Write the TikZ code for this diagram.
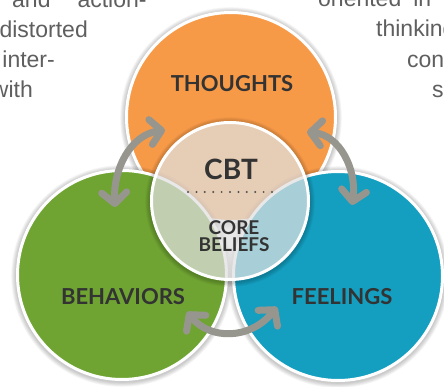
\documentclass[tikz,border=0pt]{standalone}
\usepackage{fontspec}
\setmainfont{Liberation Sans}
\newfontfamily\lblfont{Lato}
\usetikzlibrary{arrows.meta}
\definecolor{cOrange}{RGB}{247,154,72}
\definecolor{cGreen}{RGB}{111,164,50}
\definecolor{cBlue}{RGB}{20,158,191}
\definecolor{cArrow}{RGB}{150,150,143}
\definecolor{cLabel}{RGB}{51,51,51}
\definecolor{cBody}{RGB}{95,95,95}
\definecolor{cOverlay}{RGB}{224,224,224}
\definecolor{cDots}{RGB}{80,80,80}
\newcommand\mysoftshadow[2]{%
  \foreach \k in {1,...,6}{\fill[black,opacity=0.035,even odd rule] (#1) ++(0,1) circle[radius={#2pt+\k*0.8pt}] (#1) circle[radius={#2pt-2pt}];}}
\begin{document}
\begin{tikzpicture}[x=1pt,y=-1pt,
  bigcirc/.style={circle, draw=white, line width=3pt, minimum size=209pt, inner sep=0pt, outer sep=0pt},
  corecirc/.style={circle, draw=white, line width=3pt, minimum size=157pt, fill=cOverlay, fill opacity=0.73, inner sep=0pt, outer sep=0pt},
  lbl/.style={font=\lblfont\bfseries\fontsize{22}{22}\selectfont, text=cLabel, inner sep=0pt, anchor=base},
  small/.style={font=\lblfont\bfseries\fontsize{19}{17}\selectfont, text=cLabel, inner sep=0pt, align=center},
  body/.style={font=\fontsize{23}{23}\selectfont, text=cBody, inner sep=0pt},
  link/.style={draw=cArrow, line width=7pt, {Straight Barb[length=11pt,width=25pt,round]}-{Straight Barb[length=11pt,width=25pt,round]}},
]
\useasboundingbox (0,0) rectangle (444,387);
\fill[white] (0,0) rectangle (444,387);

% body text fragments
\node[body, anchor=base west] (t1) at (12,8) {and\hskip 27pt action-};
\node[body, anchor=base east] (t2) at (88,38) {distorted};
\node[body, anchor=base east] (t3) at (55,68) {inter-};
\node[body, anchor=base east] (t4) at (33,98) {with};
\node[body, anchor=base west] (t5) at (318,7) {oriented\hskip 12pt in};
\node[body, anchor=base west] (t6) at (376,37) {thinking};
\node[body, anchor=base west] (t7) at (407,68) {con};
\node[body, anchor=base west] (t8) at (432,98) {s};

\coordinate (cT) at (231,117);
\coordinate (cB) at (122,275);
\coordinate (cF) at (338,276);
\coordinate (cC) at (230,201);

\mysoftshadow{cT}{106}
\node[bigcirc, fill=cOrange] (thoughts) at (cT) {};
\mysoftshadow{cB}{106}
\node[bigcirc, fill=cGreen] (behaviors) at (cB) {};
\mysoftshadow{cF}{106}
\node[bigcirc, fill=cBlue] (feelings) at (cF) {};
\mysoftshadow{cC}{80}
\node[corecirc] (core) at (cC) {};

% labels
\node[lbl] (lt) at (232,92) {THOUGHTS};
\node[lbl] (lb) at (123,304) {BEHAVIORS};
\node[lbl] (lf) at (342,304) {FEELINGS};
\node[lbl, font=\lblfont\bfseries\fontsize{28}{28}\selectfont] (lcbt) at (231,180) {CBT};
\node[small] (lcore) at (234,236.5) {CORE\\BELIEFS};

% dotted separator
\coordinate (d1) at (188,192);
\coordinate (d2) at (272,192);
\draw[cDots, line width=2.2pt, dash pattern=on 0pt off 8.4pt, line cap=round] (d1) -- (d2);

% arrows
\coordinate (l1) at (115,207);
\coordinate (l2) at (165,130);
\draw[link] (l1) .. controls (113,170) and (130,135) .. (l2);
\coordinate (r1) at (307,132);
\coordinate (r2) at (352,205);
\draw[link] (r1) .. controls (340,135) and (357,170) .. (r2);
\coordinate (b1) at (187,312);
\coordinate (b2) at (277,307);
\draw[link] (b1) .. controls (210,340) and (250,340) .. (b2);
\end{tikzpicture}
\end{document}
